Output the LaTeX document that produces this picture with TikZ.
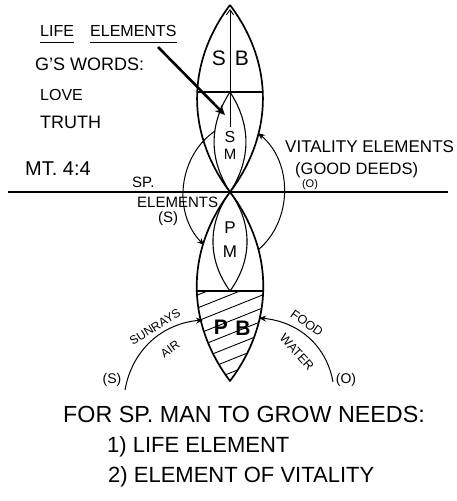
\documentclass[tikz,border=0pt]{standalone}
\usepackage{fontspec}
\setmainfont{Liberation Sans}
\usetikzlibrary{arrows.meta}

\newcommand{\lsz}[1]{\fontsize{#1}{#1}\selectfont}

\tikzset{
    lens/.style={line width=1.7pt, line join=round},
    inlens/.style={line width=1.1pt},
    feed/.style={line width=1pt, -{Stealth[length=7pt, width=6pt]}},
    txt/.style={inner sep=0pt, anchor=base west},
    letter/.style={inner sep=0pt}
}

\begin{document}
\begin{tikzpicture}[x=1pt, y=-1pt]
    \useasboundingbox (0,0) rectangle (456,501);
    \path coordinate (sbtop) at (230,5)
        coordinate (cross) at (230,192)
        coordinate (pbbot) at (230,381)
        coordinate (smtop) at (230,92)
        coordinate (pmbot) at (230,291)
        coordinate (arrowfoot) at (230,127)
        coordinate (arrowtip) at (230,9)
        coordinate (lifestart) at (158,47)
        coordinate (lifeend) at (225,115)
        coordinate (spstart) at (215,131)
        coordinate (spend) at (204,245)
        coordinate (vitstart) at (258,250)
        coordinate (vitend) at (258,133)
        coordinate (sunstart) at (125,390)
        coordinate (sunend) at (203,320)
        coordinate (foodstart) at (333,382)
        coordinate (foodend) at (259,318)
        coordinate (lineleft) at (8,192)
        coordinate (lineright) at (448,192);

    \path node[txt, font=\lsz{16}] (life) at (40,36) {LIFE}
        node[txt, font=\lsz{16}] (elem) at (90,36) {ELEMENTS}
        node[txt, font=\lsz{18}] (words) at (35,70) {G’S WORDS:}
        node[txt, font=\lsz{16}] (love) at (40,100) {LOVE}
        node[txt, font=\lsz{18}] (truth) at (40,128) {TRUTH}
        node[txt, font=\lsz{20}] (verse) at (25,175) {MT. 4:4}
        node[txt, font=\lsz{15}] (sp) at (132,187) {SP.}
        node[txt, font=\lsz{15}] (spel) at (137,207) {ELEMENTS}
        node[txt, font=\lsz{15}] (sps) at (158,222) {(S)}
        node[txt, font=\lsz{17}] (vital) at (285,152) {VITALITY ELEMENTS}
        node[txt, font=\lsz{16.5}] (deeds) at (295,174) {(GOOD DEEDS)}
        node[letter, font=\lsz{11}] (vito) at (310,185) {(O)}
        node[letter, font=\lsz{21}] (sbs) at (219,58) {S}
        node[letter, font=\lsz{21}] (sbb) at (242,58) {B}
        node[letter, font=\lsz{16}] (sms) at (230,137) {S}
        node[letter, font=\lsz{15}] (smm) at (230,154) {M}
        node[letter, font=\lsz{17}] (pmp) at (230,228) {P}
        node[letter, font=\lsz{17}] (pmm) at (230,252) {M}
        node[letter, font=\bfseries\lsz{21}] (pbp) at (221,327) {P}
        node[letter, font=\bfseries\lsz{21}] (pbb) at (243,328) {B}
        node[letter, font=\lsz{12}, rotate=32] (sun) at (155,327) {SUNRAYS}
        node[letter, font=\lsz{12}, rotate=36] (air) at (170,349) {AIR}
        node[letter, font=\lsz{12.5}, rotate=-35] (food) at (307,323) {FOOD}
        node[letter, font=\lsz{12.5}, rotate=-48] (water) at (297,352) {WATER}
        node[letter, font=\lsz{14}] (suns) at (112,380) {(S)}
        node[letter, font=\lsz{14}] (foodo) at (346,380) {(O)}
        node[txt, font=\lsz{23.3}] (needs) at (63,422) {FOR SP. MAN TO GROW NEEDS:}
        node[txt, font=\lsz{22}] (needa) at (107,452) {1) LIFE ELEMENT}
        node[txt, font=\lsz{22}] (needb) at (108,482) {2) ELEMENT OF VITALITY};

    \draw[line width=1pt] ([yshift=-6pt]life.base west) -- ([yshift=-6pt]life.base east);
    \draw[line width=1pt] ([yshift=-6pt]elem.base west) -- ([yshift=-6pt]elem.base east);

    \draw[line width=1.3pt] (lineleft) -- (lineright);

    \begin{scope}
        \clip (sbtop) to[bend right=37] (cross) to[bend right=37] (sbtop);
        \draw[line width=1.2pt] (150,92) -- (310,92);
    \end{scope}
    \begin{scope}
        \clip (cross) to[bend right=37] (pbbot) to[bend right=37] (cross);
        \draw[line width=1.2pt] (150,291) -- (310,291);
        \clip (150,291) rectangle (310,400);
        \foreach \y in {298,311,...,402}
            \draw[line width=0.9pt] (190,\y) -- (270,\y-32);
    \end{scope}

    \draw[lens] (sbtop) to[bend right=37] (cross) to[bend right=37] (sbtop);
    \draw[lens] (cross) to[bend right=37] (pbbot) to[bend right=37] (cross);
    \draw[inlens] (smtop) to[bend right=33] (cross) to[bend right=33] (smtop);
    \draw[inlens] (cross) to[bend right=36] (pmbot) to[bend right=36] (cross);

    \draw[line width=0.9pt, -{Straight Barb[length=5pt, width=7pt]}] (arrowfoot) -- (arrowtip);
    \draw[line width=2.6pt, -{Stealth[length=10pt, width=9pt]}] (lifestart) -- (lifeend);

    \draw[feed] (spstart) to[bend right=50] (spend);
    \draw[feed] (vitstart) to[bend right=50] (vitend);
    \draw[feed] (sunstart) to[out=80, in=185] (sunend);
    \draw[feed] (foodstart) to[out=100, in=-5] (foodend);
\end{tikzpicture}
\end{document}
